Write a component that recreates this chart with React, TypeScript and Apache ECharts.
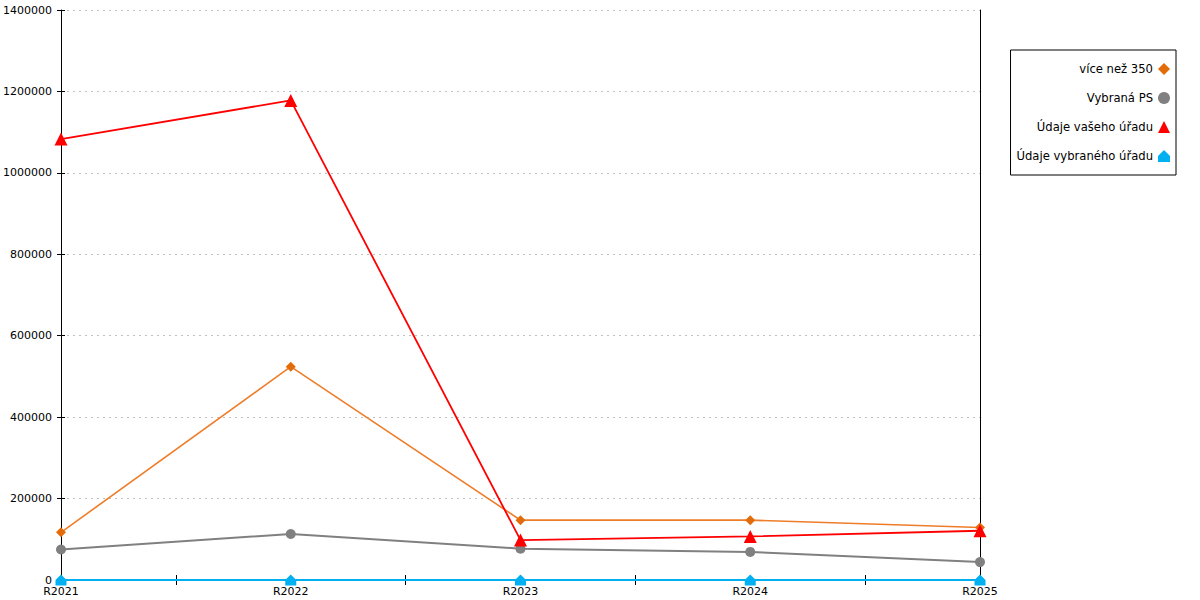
import React, { useEffect, useRef } from "react";
import * as echarts from "echarts";

const categories = ["R2021", "R2022", "R2023", "R2024", "R2025"];
const seriesNames = ["více než 350", "Vybraná PS", "Údaje vašeho úřadu", "Údaje vybraného úřadu"];
const over350 = [117000, 524000, 147000, 147000, 129000];
const vybranaPS = [75000, 113000, 77000, 69000, 44000];
const vasehoUradu = [1083000, 1178000, 98000, 107000, 121000];
const vybranehoUradu = [0, 0, 0, 0, 0];
const midTicks = [0.5, 1.5, 2.5, 3.5];

const FONT = "DejaVu Sans";
const housePath = "path://M5,0 L10,5 L10,10 L0,10 L0,5 Z";

export default function App() {
  const ref = useRef<HTMLDivElement>(null);
  useEffect(() => {
    document.body.style.margin = "0";
    const chart = echarts.init(ref.current!, undefined, { renderer: "svg" });
    const yCommon = {
      type: "value" as const,
      min: 0,
      max: 1400000,
      interval: 200000,
    };
    chart.setOption({
      animation: false,
      textStyle: { fontFamily: FONT },
      grid: { left: 61, right: 220, top: 10, bottom: 20, containLabel: false, outerBoundsMode: "none" },
      legend: {
        orient: "vertical",
        right: 24,
        top: 50,
        align: "right",
        padding: [13, 6, 13, 6],
        itemGap: 17,
        itemWidth: 12,
        itemHeight: 12,
        borderColor: "#000",
        borderWidth: 1,
        selectedMode: false,
        textStyle: { fontFamily: FONT, fontSize: 11.6, color: "#000" },
        data: [
          { name: seriesNames[0], icon: "diamond" },
          { name: seriesNames[1], icon: "circle" },
          { name: seriesNames[2], icon: "triangle" },
          { name: seriesNames[3], icon: housePath },
        ],
      },
      xAxis: [
        {
          type: "category",
          data: categories,
          boundaryGap: false,
          axisLine: { show: true, lineStyle: { color: "#000", width: 1 } },
          axisTick: { show: false },
          axisLabel: { color: "#000", fontSize: 11, fontFamily: FONT, margin: 6 },
          splitLine: { show: false },
        },
        {
          type: "value",
          min: 0,
          max: 4,
          position: "bottom",
          axisLine: { show: false },
          axisLabel: { show: false },
          splitLine: { show: false },
          axisTick: { show: true, inside: false, length: 5, customValues: midTicks, lineStyle: { color: "#000" } },
        },
        {
          type: "value",
          min: 0,
          max: 4,
          position: "bottom",
          axisLine: { show: false },
          axisLabel: { show: false },
          splitLine: { show: false },
          axisTick: { show: true, inside: true, length: 5, customValues: midTicks, lineStyle: { color: "#000" } },
        },
      ],
      yAxis: [
        {
          ...yCommon,
          position: "left",
          axisLine: { show: true, lineStyle: { color: "#000", width: 1 } },
          axisTick: { show: true, inside: false, length: 4, lineStyle: { color: "#000" } },
          axisLabel: { color: "#000", fontSize: 11, fontFamily: FONT, margin: 9, formatter: (v: number) => String(v) },
          splitLine: { show: true, lineStyle: { color: "#c0c0c0", type: [2, 4], width: 1 } },
        },
        {
          ...yCommon,
          position: "left",
          axisLine: { show: false },
          axisTick: { show: true, inside: true, length: 4, lineStyle: { color: "#000" } },
          axisLabel: { show: false },
          splitLine: { show: false },
        },
        {
          ...yCommon,
          position: "right",
          axisLine: { show: true, lineStyle: { color: "#000", width: 1 } },
          axisTick: { show: false },
          axisLabel: { show: false },
          splitLine: { show: false },
        },
      ],
      series: [
        {
          name: seriesNames[0],
          type: "line",
          data: over350,
          symbol: "diamond",
          symbolSize: 10,
          lineStyle: { color: "#ee7d2a", width: 1.6 },
          itemStyle: { color: "#e36c0a" },
        },
        {
          name: seriesNames[1],
          type: "line",
          data: vybranaPS,
          symbol: "circle",
          symbolSize: 10,
          lineStyle: { color: "#808080", width: 2 },
          itemStyle: { color: "#808080" },
        },
        {
          name: seriesNames[2],
          type: "line",
          data: vasehoUradu,
          symbol: "triangle",
          symbolSize: 13,
          lineStyle: { color: "#ff0000", width: 1.8 },
          itemStyle: { color: "#ff0000" },
        },
        {
          name: seriesNames[3],
          type: "line",
          data: vybranehoUradu,
          symbol: housePath,
          symbolSize: 11,
          lineStyle: { color: "#00b0f0", width: 2 },
          itemStyle: { color: "#00b0f0" },
        },
      ],
    });
    return () => chart.dispose();
  }, []);
  return <div ref={ref} style={{ width: 1200, height: 600 }} />;
}
